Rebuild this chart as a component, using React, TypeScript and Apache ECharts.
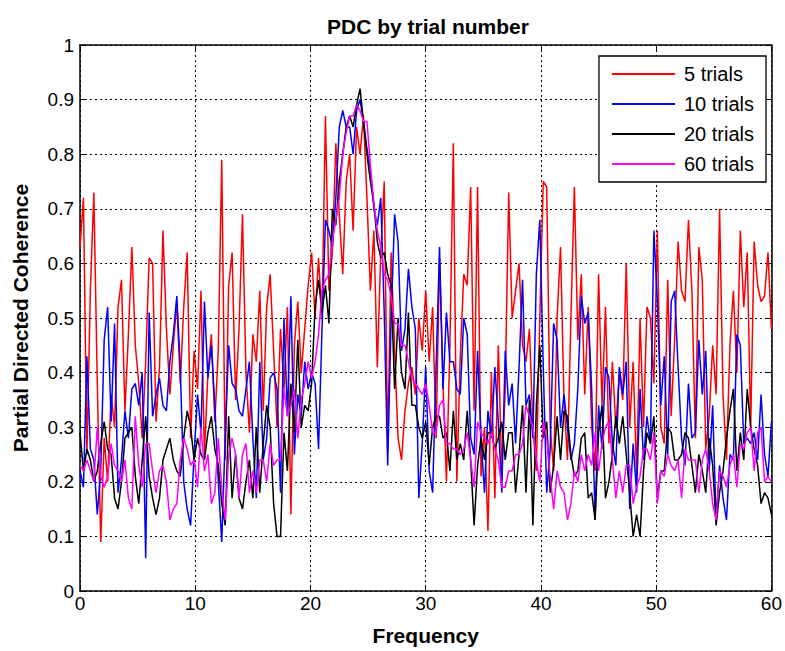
import React, { useEffect, useRef } from "react";
import * as echarts from "echarts";

const TITLE = "PDC by trial number";
const X_NAME = "Frequency";
const Y_NAME = "Partial Directed Coherence";
const SERIES_NAMES = ["5 trials", "10 trials", "20 trials", "60 trials"];
const COLORS = ["#ff0000", "#0000ff", "#000000", "#ff00ff"];
const FREQ_STEP = 0.3;

const RED = [
  0.63, 0.72, 0.25, 0.55, 0.73, 0.38, 0.09, 0.28, 0.20, 0.36,
  0.30, 0.52, 0.57, 0.33, 0.47, 0.63, 0.45, 0.38, 0.28, 0.42,
  0.61, 0.60, 0.31, 0.41, 0.66, 0.48, 0.36, 0.45, 0.53, 0.38,
  0.52, 0.62, 0.28, 0.44, 0.37, 0.55, 0.25, 0.40, 0.47, 0.31,
  0.44, 0.79, 0.24, 0.56, 0.62, 0.35, 0.48, 0.69, 0.40, 0.29,
  0.47, 0.42, 0.55, 0.33, 0.52, 0.58, 0.44, 0.30, 0.48, 0.37,
  0.52, 0.14, 0.45, 0.53, 0.40, 0.48, 0.56, 0.62, 0.50, 0.61,
  0.50, 0.87, 0.55, 0.62, 0.82, 0.69, 0.58, 0.75, 0.80, 0.66,
  0.85, 0.80, 0.87, 0.72, 0.55, 0.66, 0.41, 0.62, 0.75, 0.26,
  0.62, 0.44, 0.28, 0.24, 0.33, 0.38, 0.41, 0.36, 0.50, 0.44,
  0.55, 0.42, 0.52, 0.28, 0.61, 0.38, 0.20, 0.45, 0.82, 0.20,
  0.43, 0.58, 0.56, 0.74, 0.33, 0.74, 0.21, 0.30, 0.11, 0.40,
  0.17, 0.45, 0.22, 0.37, 0.73, 0.50, 0.55, 0.60, 0.45, 0.42,
  0.48, 0.30, 0.22, 0.50, 0.75, 0.74, 0.30, 0.22, 0.50, 0.63,
  0.35, 0.24, 0.50, 0.74, 0.46, 0.58, 0.36, 0.52, 0.30, 0.22,
  0.58, 0.34, 0.52, 0.27, 0.42, 0.30, 0.40, 0.35, 0.60, 0.30,
  0.42, 0.21, 0.50, 0.30, 0.52, 0.50, 0.38, 0.66, 0.30, 0.27,
  0.57, 0.32, 0.46, 0.64, 0.55, 0.53, 0.68, 0.55, 0.28, 0.63,
  0.57, 0.26, 0.32, 0.45, 0.36, 0.70, 0.36, 0.24, 0.45, 0.55,
  0.40, 0.66, 0.52, 0.62, 0.30, 0.64, 0.56, 0.53, 0.54, 0.62, 0.48,
];

const BLUE = [
  0.22, 0.19, 0.43, 0.26, 0.24, 0.14, 0.22, 0.46, 0.52, 0.31,
  0.49, 0.18, 0.24, 0.33, 0.28, 0.37, 0.38, 0.34, 0.40, 0.06,
  0.51, 0.32, 0.36, 0.39, 0.34, 0.33, 0.42, 0.47, 0.54, 0.41,
  0.20, 0.15, 0.12, 0.25, 0.36, 0.29, 0.53, 0.39, 0.45, 0.34,
  0.20, 0.09, 0.28, 0.45, 0.38, 0.37, 0.33, 0.32, 0.37, 0.42,
  0.28, 0.17, 0.42, 0.24, 0.28, 0.39, 0.40, 0.37, 0.18, 0.50,
  0.32, 0.54, 0.25, 0.36, 0.32, 0.42, 0.37, 0.40, 0.38, 0.26,
  0.48, 0.68, 0.66, 0.63, 0.72, 0.85, 0.88, 0.85, 0.85, 0.80,
  0.88, 0.90, 0.86, 0.81, 0.77, 0.70, 0.67, 0.72, 0.51, 0.23,
  0.50, 0.69, 0.64, 0.44, 0.48, 0.59, 0.52, 0.48, 0.17, 0.27,
  0.41, 0.22, 0.18, 0.41, 0.63, 0.37, 0.51, 0.42, 0.42, 0.37,
  0.36, 0.50, 0.47, 0.28, 0.25, 0.44, 0.28, 0.18, 0.33, 0.28,
  0.41, 0.31, 0.18, 0.44, 0.34, 0.38, 0.27, 0.41, 0.57, 0.34,
  0.36, 0.28, 0.58, 0.68, 0.41, 0.18, 0.26, 0.49, 0.46, 0.30,
  0.36, 0.30, 0.24, 0.27, 0.37, 0.54, 0.49, 0.51, 0.37, 0.13,
  0.34, 0.26, 0.41, 0.39, 0.27, 0.23, 0.41, 0.36, 0.42, 0.15,
  0.27, 0.18, 0.37, 0.24, 0.32, 0.27, 0.66, 0.53, 0.34, 0.43,
  0.25, 0.53, 0.55, 0.41, 0.28, 0.23, 0.38, 0.28, 0.29, 0.46,
  0.36, 0.44, 0.22, 0.34, 0.13, 0.23, 0.17, 0.13, 0.25, 0.24,
  0.47, 0.45, 0.27, 0.28, 0.27, 0.29, 0.24, 0.36, 0.25, 0.21, 0.31,
];

const BLACK = [
  0.29, 0.22, 0.26, 0.24, 0.20, 0.22, 0.27, 0.31, 0.26, 0.25,
  0.17, 0.15, 0.20, 0.28, 0.29, 0.30, 0.21, 0.16, 0.24, 0.32,
  0.21, 0.17, 0.14, 0.17, 0.24, 0.26, 0.28, 0.24, 0.22, 0.21,
  0.28, 0.33, 0.30, 0.24, 0.28, 0.25, 0.24, 0.29, 0.32, 0.26,
  0.23, 0.16, 0.12, 0.32, 0.17, 0.25, 0.17, 0.15, 0.20, 0.24,
  0.17, 0.30, 0.18, 0.27, 0.34, 0.30, 0.16, 0.10, 0.10, 0.29,
  0.22, 0.38, 0.29, 0.46, 0.30, 0.34, 0.33, 0.38, 0.52, 0.57,
  0.51, 0.56, 0.49, 0.70, 0.67, 0.75, 0.80, 0.85, 0.87, 0.85,
  0.89, 0.92, 0.86, 0.80, 0.75, 0.71, 0.64, 0.61, 0.62, 0.58,
  0.56, 0.37, 0.50, 0.40, 0.37, 0.51, 0.34, 0.34, 0.30, 0.28,
  0.31, 0.23, 0.30, 0.32, 0.32, 0.28, 0.29, 0.22, 0.33, 0.24,
  0.27, 0.24, 0.33, 0.24, 0.12, 0.23, 0.28, 0.24, 0.29, 0.29,
  0.26, 0.28, 0.31, 0.24, 0.29, 0.29, 0.18, 0.25, 0.34, 0.18,
  0.35, 0.12, 0.34, 0.45, 0.28, 0.31, 0.18, 0.23, 0.32, 0.24,
  0.33, 0.32, 0.25, 0.21, 0.22, 0.28, 0.29, 0.17, 0.18, 0.13,
  0.29, 0.34, 0.17, 0.20, 0.25, 0.32, 0.27, 0.32, 0.25, 0.18,
  0.10, 0.14, 0.10, 0.22, 0.29, 0.27, 0.32, 0.17, 0.22, 0.22,
  0.30, 0.29, 0.24, 0.24, 0.25, 0.29, 0.28, 0.23, 0.18, 0.25,
  0.22, 0.18, 0.28, 0.23, 0.12, 0.18, 0.22, 0.28, 0.33, 0.37,
  0.22, 0.29, 0.24, 0.37, 0.30, 0.26, 0.23, 0.16, 0.18, 0.17, 0.14,
];

const MAGENTA = [
  0.23, 0.22, 0.24, 0.22, 0.20, 0.30, 0.21, 0.19, 0.21, 0.27,
  0.23, 0.22, 0.20, 0.24, 0.17, 0.15, 0.32, 0.23, 0.19, 0.27,
  0.27, 0.22, 0.18, 0.22, 0.23, 0.20, 0.13, 0.15, 0.16, 0.24,
  0.28, 0.26, 0.23, 0.24, 0.19, 0.30, 0.22, 0.25, 0.16, 0.18,
  0.28, 0.19, 0.13, 0.25, 0.28, 0.25, 0.17, 0.25, 0.27, 0.18,
  0.22, 0.18, 0.24, 0.24, 0.20, 0.27, 0.23, 0.24, 0.24, 0.37,
  0.32, 0.34, 0.37, 0.28, 0.35, 0.38, 0.42, 0.39, 0.42, 0.47,
  0.55, 0.57, 0.58, 0.64, 0.68, 0.72, 0.80, 0.84, 0.87, 0.87,
  0.89, 0.88, 0.86, 0.86, 0.78, 0.71, 0.66, 0.63, 0.58, 0.57,
  0.54, 0.49, 0.49, 0.45, 0.45, 0.42, 0.39, 0.38, 0.37, 0.36,
  0.38, 0.34, 0.29, 0.29, 0.34, 0.35, 0.27, 0.27, 0.26, 0.26,
  0.25, 0.26, 0.29, 0.24, 0.19, 0.31, 0.29, 0.28, 0.27, 0.29,
  0.26, 0.24, 0.19, 0.19, 0.22, 0.22, 0.25, 0.25, 0.27, 0.34,
  0.32, 0.30, 0.24, 0.20, 0.31, 0.28, 0.21, 0.15, 0.22, 0.19,
  0.18, 0.13, 0.16, 0.22, 0.20, 0.25, 0.22, 0.25, 0.23, 0.29,
  0.22, 0.27, 0.30, 0.31, 0.24, 0.17, 0.22, 0.18, 0.23, 0.23,
  0.16, 0.19, 0.21, 0.26, 0.26, 0.24, 0.29, 0.16, 0.22, 0.21,
  0.25, 0.23, 0.22, 0.24, 0.17, 0.26, 0.24, 0.24, 0.24, 0.18,
  0.24, 0.26, 0.22, 0.16, 0.13, 0.22, 0.21, 0.19, 0.23, 0.25,
  0.19, 0.27, 0.26, 0.29, 0.30, 0.22, 0.29, 0.30, 0.20, 0.21, 0.20,
];

const ALL_VALUES = [RED, BLUE, BLACK, MAGENTA];
const FONT = "'Liberation Sans', Arial, Helvetica, sans-serif";

export default function App() {
  const ref = useRef<HTMLDivElement>(null);

  useEffect(() => {
    if (!ref.current) return;
    const chart = echarts.init(ref.current, undefined, { renderer: "svg" });

    const series = ALL_VALUES.map((vals, k) => ({
      name: SERIES_NAMES[k],
      type: "line",
      data: vals.map((v, i) => [+(i * FREQ_STEP).toFixed(1), v]),
      showSymbol: false,
      symbol: "none",
      lineStyle: { color: COLORS[k], width: 1.5 },
      itemStyle: { color: COLORS[k] },
      z: 2 + k,
    }));

    const splitLine = { show: true, lineStyle: { color: "#000", type: [2, 3], width: 1 } };
    const axisLine = { show: true, onZero: false, lineStyle: { color: "#000", width: 1.5 } };
    const axisTick = { show: true, inside: true, length: 6, lineStyle: { color: "#000", width: 1 } };

    chart.setOption({
      animation: false,
      backgroundColor: "#fff",
      title: {
        text: TITLE,
        left: 423,
        top: 11,
        textAlign: "center",
        textStyle: { fontFamily: FONT, fontSize: 21, fontWeight: "bold", color: "#000" },
      },
      legend: {
        orient: "vertical",
        right: 19,
        top: 56,
        icon: "rect",
        itemWidth: 63,
        itemHeight: 2,
        itemGap: 8,
        padding: [7, 12, 7, 13],
        backgroundColor: "#fff",
        borderColor: "#000",
        borderWidth: 1.3,
        borderRadius: 0,
        textStyle: { fontFamily: FONT, fontSize: 20, color: "#000", lineHeight: 22, padding: [0, 0, 0, 4] },
        data: SERIES_NAMES,
      },
      grid: { left: 80, right: 9, top: 45, bottom: 59, containLabel: false, show: false },
      xAxis: [
        {
          type: "value",
          min: 0,
          max: 60,
          interval: 10,
          name: X_NAME,
          nameLocation: "middle",
          nameGap: 34,
          nameTextStyle: { fontFamily: FONT, fontSize: 21, fontWeight: "bold", color: "#000" },
          axisLine,
          axisTick,
          axisLabel: { fontFamily: FONT, fontSize: 19, color: "#000", margin: 3 },
          splitLine,
        },
        {
          type: "value",
          position: "top",
          min: 0,
          max: 60,
          interval: 10,
          axisLine,
          axisTick,
          axisLabel: { show: false },
          splitLine: { show: false },
        },
      ],
      yAxis: [
        {
          type: "value",
          min: 0,
          max: 1,
          interval: 0.1,
          name: Y_NAME,
          nameLocation: "middle",
          nameGap: 49,
          nameTextStyle: { fontFamily: FONT, fontSize: 21, fontWeight: "bold", color: "#000" },
          axisLine,
          axisTick,
          axisLabel: { fontFamily: FONT, fontSize: 19, color: "#000", margin: 6 },
          splitLine,
        },
        {
          type: "value",
          position: "right",
          min: 0,
          max: 1,
          interval: 0.1,
          axisLine,
          axisTick,
          axisLabel: { show: false },
          splitLine: { show: false },
        },
      ],
      series,
    });

    return () => chart.dispose();
  }, []);

  return (
    <div
      ref={ref}
      style={{ position: "absolute", left: 0, top: 0, width: 785, height: 651, background: "#fff" }}
    />
  );
}
